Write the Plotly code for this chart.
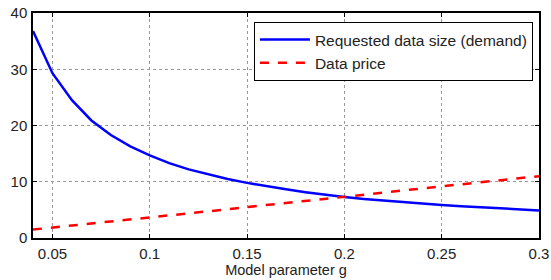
import plotly.graph_objects as go

g_values = [0.04, 0.05, 0.06, 0.07, 0.08, 0.09, 0.10, 0.11, 0.12, 0.13, 0.14, 0.15,
            0.16, 0.17, 0.18, 0.19, 0.20, 0.21, 0.22, 0.23, 0.24, 0.25, 0.26, 0.27,
            0.28, 0.29, 0.30]
demand = [36.8, 29.3, 24.5, 20.9, 18.3, 16.3, 14.7, 13.3, 12.2, 11.3, 10.5, 9.8,
          9.2, 8.65, 8.15, 7.7, 7.3, 6.95, 6.65, 6.35, 6.1, 5.85, 5.65, 5.45,
          5.25, 5.05, 4.9]
price = [1.5, 1.85, 2.2, 2.6, 2.95, 3.3, 3.7, 4.05, 4.4, 4.75, 5.1, 5.5,
         5.85, 6.2, 6.6, 6.95, 7.35, 7.7, 8.05, 8.45, 8.8, 9.2, 9.55, 9.9,
         10.3, 10.65, 11.0]
x_ticks = [0.05, 0.1, 0.15, 0.2, 0.25, 0.3]
x_tick_labels = ["0.05", "0.1", "0.15", "0.2", "0.25", "0.3"]
y_ticks = [0, 10, 20, 30, 40]

fig = go.Figure()
fig.add_trace(go.Scatter(x=g_values, y=demand, mode="lines",
                         name="Requested data size (demand)",
                         line=dict(color="#0000ff", width=2.5)))
fig.add_trace(go.Scatter(x=g_values, y=price, mode="lines",
                         name="Data price",
                         line=dict(color="#ff0000", width=2.5, dash="dash")))

axis_common = dict(showline=True, linecolor="black", linewidth=1.5, mirror="ticks",
                   ticks="inside", ticklen=4, tickcolor="black",
                   showgrid=True, gridcolor="#999999", griddash="dot", gridwidth=1,
                   zeroline=False, automargin=False,
                   tickfont=dict(size=15, color="#222222"))

fig.update_xaxes(range=[0.04, 0.3], tickvals=x_ticks, ticktext=x_tick_labels,
                 ticklabelstandoff=1,
                 title=dict(text="Model parameter g", font=dict(size=14.5, color="#222222"),
                            standoff=1),
                 **axis_common)
fig.update_yaxes(range=[0, 40], tickvals=y_ticks, ticklabelstandoff=1, **axis_common)

fig.update_layout(
    width=551, height=280,
    margin=dict(l=33, r=12, t=13, b=42),
    paper_bgcolor="white", plot_bgcolor="white",
    font=dict(family="Liberation Sans, Arial, sans-serif", size=15, color="#222222"),
    legend=dict(x=0.988, y=0.96, xanchor="right", yanchor="top",
                bgcolor="white", bordercolor="black", borderwidth=1,
                font=dict(size=15.5), tracegroupgap=0, itemwidth=50),
    showlegend=True,
)

fig.write_html("out.html", config={"displayModeBar": False},
               post_script="document.body.style.margin='0';document.body.style.overflow='hidden';")
